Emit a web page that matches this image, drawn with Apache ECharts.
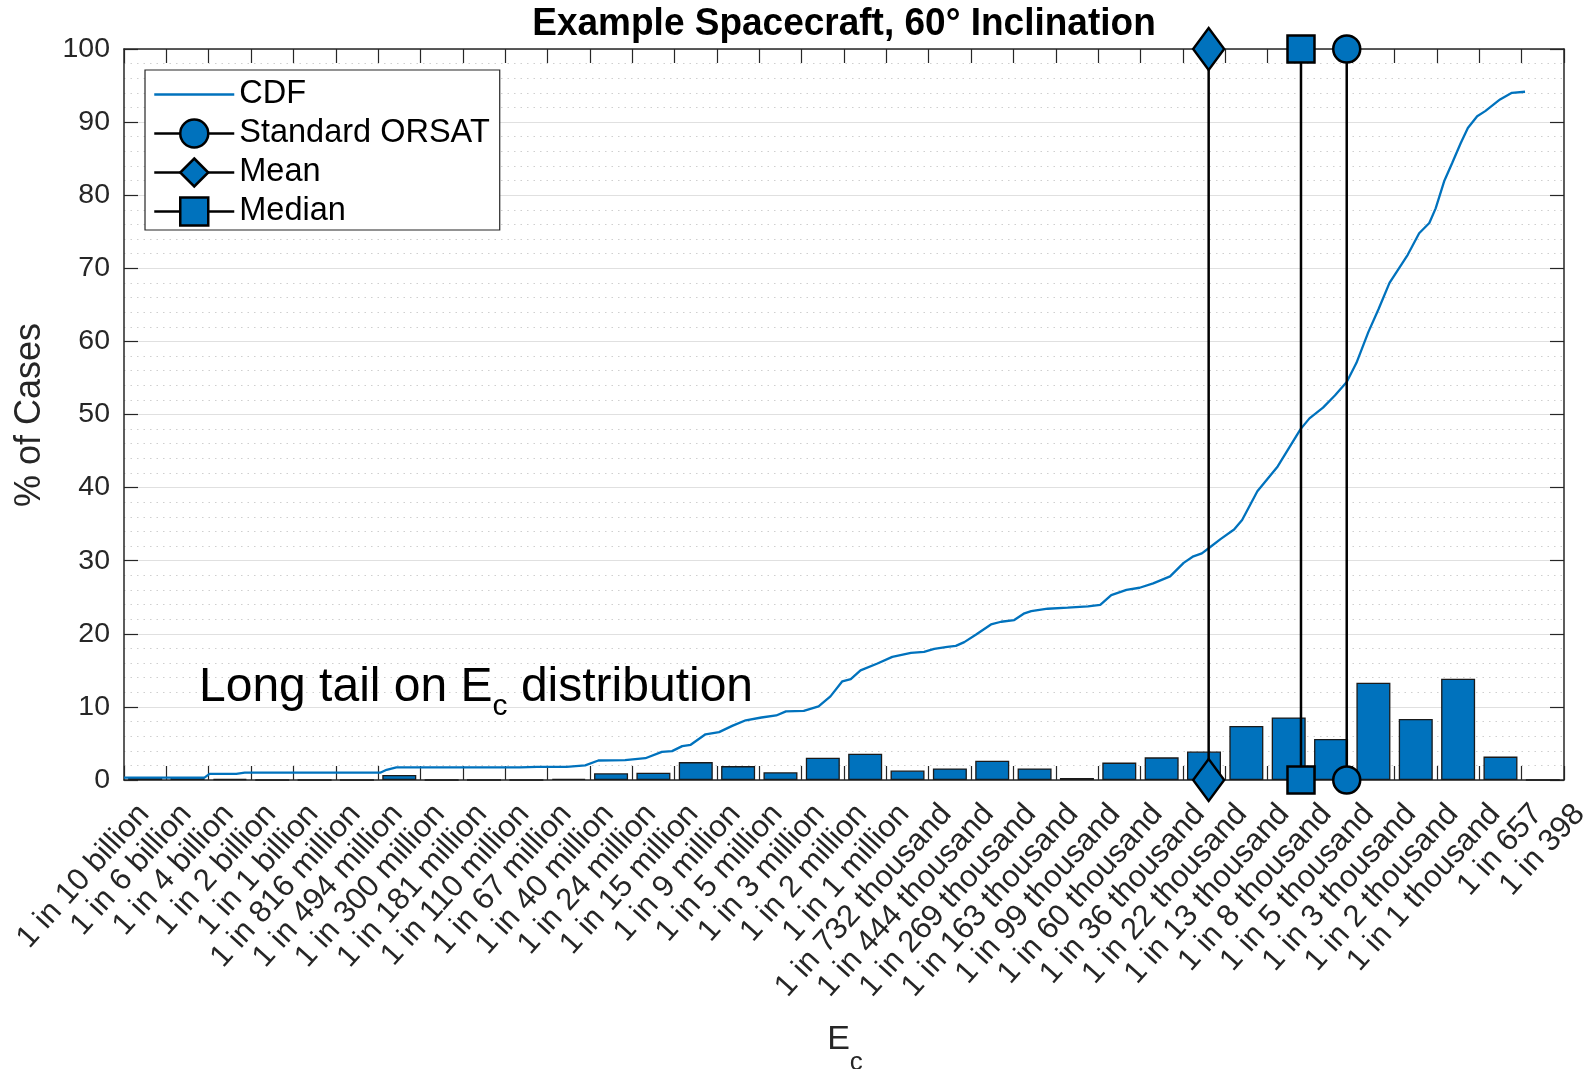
<!DOCTYPE html>
<html><head><meta charset="utf-8">
<script src="https://cdn.jsdelivr.net/npm/echarts@6/dist/echarts.min.js"></script>
<style>html,body{margin:0;padding:0;background:#fff}#c{width:1593px;height:1069px}</style>
</head><body><div id="c"></div>
<script>
// tick labels at bin edges (35)
const tickLabels = ['1 in 10 billion','1 in 6 billion','1 in 4 billion','1 in 2 billion','1 in 1 billion',
 '1 in 816 million','1 in 494 million','1 in 300 million','1 in 181 million','1 in 110 million','1 in 67 million',
 '1 in 40 million','1 in 24 million','1 in 15 million','1 in 9 million','1 in 5 million','1 in 3 million',
 '1 in 2 million','1 in 1 million','1 in 732 thousand','1 in 444 thousand','1 in 269 thousand','1 in 163 thousand',
 '1 in 99 thousand','1 in 60 thousand','1 in 36 thousand','1 in 22 thousand','1 in 13 thousand','1 in 8 thousand',
 '1 in 5 thousand','1 in 3 thousand','1 in 2 thousand','1 in 1 thousand','1 in 657','1 in 398'];
// histogram bin values (% of cases), one per bin between consecutive tick labels (34)
const binValues = [0.36,0.42,0.14,0,0,0,0.68,0,0,0,0.15,0.92,1.0,2.45,1.9,1.05,3.05,3.6,1.3,1.58,2.65,1.58,0.27,
 2.38,3.1,3.9,7.4,8.56,5.6,13.3,8.35,13.85,3.2,0];
// CDF curve: position along the tick-index scale, and cumulative %
const cdfPos = [0.0,1.9,2.02,2.65,2.85,6.05,6.2,6.43,9.35,9.75,10.45,10.89,11.2,11.83,12.31,12.7,12.94,13.18,13.38,
 13.73,14.05,14.36,14.68,15.05,15.4,15.63,16.05,16.4,16.68,16.96,17.16,17.39,17.79,18.14,18.58,18.89,19.13,19.44,
 19.64,19.84,20.12,20.47,20.71,21.02,21.26,21.42,21.81,22.28,22.76,23.05,23.31,23.67,23.98,24.3,24.7,25.02,25.25,
 25.45,25.61,25.89,26.21,26.4,26.76,27.24,27.78,27.99,28.31,28.59,28.87,29.1,29.38,29.62,29.88,30.08,30.31,30.58,
 30.82,30.97,31.17,31.36,31.56,31.73,31.95,32.14,32.49,32.77,33.08];
const cdfPct = [0.32,0.32,0.83,0.85,1.0,1.0,1.4,1.74,1.74,1.8,1.8,2.0,2.67,2.72,2.98,3.85,3.95,4.63,4.82,6.25,6.55,
 7.4,8.17,8.55,8.83,9.38,9.45,10.07,11.44,13.5,13.8,15.0,15.93,16.84,17.39,17.53,17.94,18.2,18.35,18.86,19.9,21.28,
 21.65,21.88,22.8,23.1,23.43,23.57,23.75,23.95,25.3,26.0,26.3,26.9,27.85,29.7,30.6,31.0,31.7,32.95,34.26,35.57,39.5,
 42.9,48.0,49.47,50.94,52.6,54.45,57.07,61.27,64.4,68.0,69.8,71.85,74.8,76.2,78.2,81.9,84.4,87.1,89.2,90.8,91.5,
 93.1,94.0,94.15];
// reference markers (tick-index scale)
const orsatPos = 28.87, meanPos = 25.61, medianPos = 27.79;
const markerSpan = [0, 100];
const yTicks = {min: 0, max: 100, step: 10};

const FONT = '"Liberation Sans", Arial, sans-serif';
const BLUE = '#0072BD', AX = '#262626';
const GL = 124, GT = 49, GW = 1440, GH = 731;

const chart = echarts.init(document.getElementById('c'), null, {renderer: 'canvas'});
const n = tickLabels.length - 1;

function vline(name, pos, symbol, size) {
  return {
    name: name, type: 'line', xAxisIndex: 0, yAxisIndex: 0, clip: false, z: 5,
    data: markerSpan.map(v => [pos, v]),
    symbol: symbol, symbolSize: size, showSymbol: true,
    lineStyle: {color: '#000', width: 2.5},
    itemStyle: {color: BLUE, borderColor: '#000', borderWidth: 2.5},
    emphasis: {disabled: true}
  };
}

const option = {
  animation: false,
  backgroundColor: '#fff',
  grid: [
    {left: GL, top: GT, width: GW, height: GH},
    {left: GL + 20, top: GT, width: GW, height: GH}
  ],
  xAxis: [
    {gridIndex: 0, type: 'value', min: 0, max: n, interval: 1, position: 'bottom',
     axisLine: {show: true, onZero: false, lineStyle: {color: AX, width: 1.5}},
     axisTick: {show: true, inside: true, length: 14, lineStyle: {color: AX, width: 1.2}},
     axisLabel: {show: false}, splitLine: {show: false}},
    {gridIndex: 0, type: 'value', min: 0, max: n, interval: 1, position: 'top',
     axisLine: {show: true, onZero: false, lineStyle: {color: AX, width: 1.5}},
     axisTick: {show: true, inside: true, length: 14, lineStyle: {color: AX, width: 1.2}},
     axisLabel: {show: false}, splitLine: {show: false}},
    {gridIndex: 1, type: 'value', min: 0, max: n, interval: 1, position: 'bottom',
     axisLine: {show: false}, axisTick: {show: false}, splitLine: {show: false},
     axisLabel: {show: true, rotate: 48, margin: 29, fontSize: 31, fontFamily: FONT, color: AX,
       showMinLabel: true, showMaxLabel: true,
       formatter: v => tickLabels[Math.round(v)] || ''}}
  ],
  yAxis: [
    {gridIndex: 0, type: 'value', min: yTicks.min, max: yTicks.max, interval: yTicks.step, position: 'left',
     axisLine: {show: true, onZero: false, lineStyle: {color: AX, width: 1.5}},
     axisTick: {show: true, inside: true, length: 14, lineStyle: {color: AX, width: 1.2}},
     axisLabel: {show: true, margin: 14, fontSize: 28.5, fontFamily: FONT, color: AX},
     splitLine: {show: true, lineStyle: {color: '#e0e0e0', width: 1.2}},
     minorTick: {show: false, splitNumber: 5},
     minorSplitLine: {show: true, lineStyle: {color: '#cfcfcf', width: 1.2, type: [1.5, 5]}}},
    {gridIndex: 0, type: 'value', min: yTicks.min, max: yTicks.max, interval: yTicks.step, position: 'right',
     axisLine: {show: true, onZero: false, lineStyle: {color: AX, width: 1.5}},
     axisTick: {show: true, inside: true, length: 14, lineStyle: {color: AX, width: 1.2}},
     axisLabel: {show: false}, splitLine: {show: false}},
    {gridIndex: 1, type: 'value', min: 0, max: 100, show: false}
  ],
  legend: {
    left: 145, top: 70, orient: 'vertical',
    itemWidth: 80, itemHeight: 35, itemGap: 6,
    padding: [8, 10, 2, 8],
    borderColor: AX, borderWidth: 1.2, backgroundColor: '#fff',
    textStyle: {fontSize: 32.5, fontFamily: FONT, color: '#000'},
    lineStyle: {width: 2.5},
    itemStyle: {borderWidth: 2.5},
    data: [
      {name: 'CDF', itemStyle: {opacity: 0}, lineStyle: {width: 2.3}},
      'Standard ORSAT', 'Mean', 'Median'
    ],
    selectedMode: false, z: 10
  },
  series: [
    {name: 'Histogram', type: 'bar', xAxisIndex: 0, yAxisIndex: 0, z: 2,
     data: binValues.map((v, i) => [i + 0.5, v]),
     barWidth: 34,
     itemStyle: {color: BLUE, borderColor: '#1a1a1a', borderWidth: 1.3},
     emphasis: {disabled: true}},
    {name: 'CDF', type: 'line', xAxisIndex: 0, yAxisIndex: 0, z: 3,
     data: cdfPos.map((x, i) => [x, cdfPct[i]]),
     symbol: 'none', smooth: false,
     lineStyle: {color: BLUE, width: 2.3}, itemStyle: {color: BLUE},
     emphasis: {disabled: true}},
    vline('Standard ORSAT', orsatPos, 'circle', 27),
    vline('Mean', meanPos, 'diamond', [31, 42]),
    vline('Median', medianPos, 'rect', 27)
  ],
  graphic: [
    {type: 'text', x: 844, y: 24, z: 20, scaleY: 1.06,
     style: {text: 'Example Spacecraft, 60° Inclination', font: 'bold 37px ' + FONT, fill: '#000',
       textAlign: 'center', textVerticalAlign: 'middle'}},
    {type: 'text', x: 30, y: 415, rotation: Math.PI / 2, z: 20,
     style: {text: '% of Cases', font: '36px ' + FONT, fill: AX, textAlign: 'center', textVerticalAlign: 'middle'}},
    {type: 'text', x: 845, y: 1040, z: 20,
     style: {text: '{e|E}{s|c}', textAlign: 'center', textVerticalAlign: 'middle', fill: AX,
       rich: {e: {fontSize: 34, fontFamily: FONT, fill: AX, lineHeight: 72, verticalAlign: 'middle'},
              s: {fontSize: 26, fontFamily: FONT, fill: AX, lineHeight: 26, verticalAlign: 'bottom'}}}},
    {type: 'text', x: 199, y: 688, z: 20,
     style: {text: '{m|Long tail on E}{s|c}{m| distribution}', textAlign: 'left', textVerticalAlign: 'middle', fill: '#000',
       rich: {m: {fontSize: 48, fontFamily: FONT, fill: '#000', lineHeight: 68, verticalAlign: 'middle'},
              s: {fontSize: 30, fontFamily: FONT, fill: '#000', lineHeight: 30, verticalAlign: 'bottom'}}}}
  ]
};
chart.setOption(option);
</script>
</body></html>
